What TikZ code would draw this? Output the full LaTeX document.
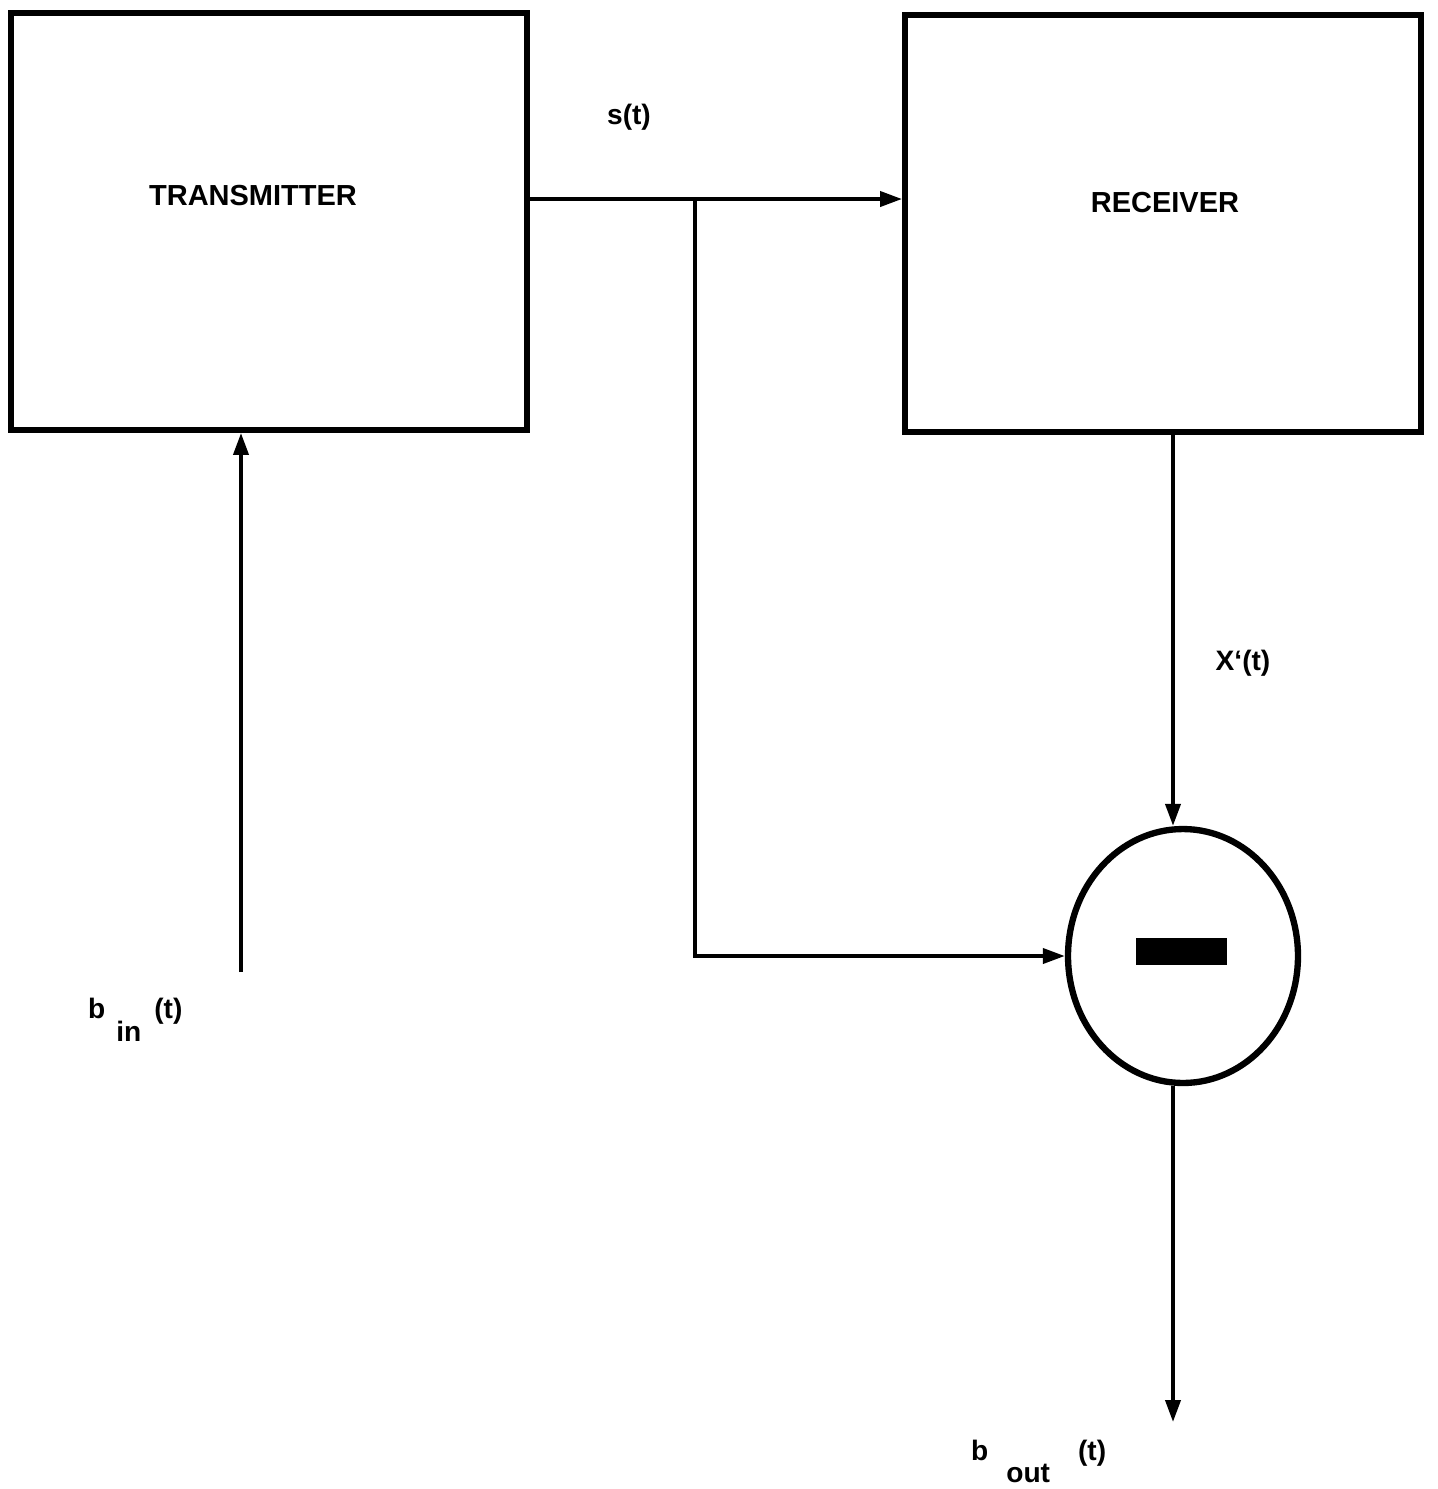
\documentclass[tikz,border=0pt]{standalone}
\usepackage{fontspec}
\setmainfont{Liberation Sans}
\usetikzlibrary{arrows.meta, positioning, shapes.geometric}

\begin{document}
\begin{tikzpicture}[
  x=0.02cm, y=-0.02cm,
  font=\bfseries\fontsize{16.5}{19}\selectfont,
  block/.style={draw, line width=3.4pt, minimum width=10.32cm,
                minimum height=8.34cm, inner sep=0pt},
  summer/.style={draw, ellipse, line width=3.6pt, minimum width=4.6cm,
                 minimum height=5.08cm, inner sep=0pt},
  minusbar/.style={fill, minimum width=1.82cm, minimum height=0.54cm, inner sep=0pt},
  arr/.style={-{Triangle[length=0.44cm, width=0.3cm]}, line width=2.2pt},
  sig/.style={font=\bfseries\fontsize{16}{19}\selectfont},
  sub/.style={font=\bfseries\fontsize{16}{19}\selectfont, anchor=base west},
]
\useasboundingbox (0,0) rectangle (1438,1489);

% Blocos
\node[block] (tx) at (269,221.5) {};
\node (txt) at (253,196) {TRANSMITTER};
\node[block] (rx) at (1163,223.5) {};
\node (rxt) at (1165,203) {RECEIVER};

% Subtrator
\node[summer] (sum) at (1183,956) {};
\node[minusbar] (minus) at (1181.5,951.5) {};

% Pontos livres
\coordinate (split) at (695,199);
\coordinate (bin) at (241,972);
\coordinate (bout) at (1173,1422);

% Setas
\draw[arr] (tx.east |- split) -- (rx.west |- split);
\draw[arr] (split) |- (sum.west);
\draw[arr] (bin) -- (bin |- tx.south);
\draw[arr] ([xshift=-0.2cm]rx.south -| sum.north) -- ([xshift=-0.2cm]sum.north);
\draw[arr] ([xshift=-0.2cm]sum.south) -- (bout);

% Rotulos
\node[sig] (slbl) at (629,117) {s(t)};
\node[sig] (xlbl) at (1243,663) {X‘(t)};
\node[sub] (binlbl) at (82,1018) {b\hspace{0.22cm}\raisebox{-0.46cm}{in}\hspace{0.26cm}(t)};
\node[sub] (boutlbl) at (965,1460) {b\hspace{0.36cm}\raisebox{-0.44cm}{out}\hspace{0.56cm}(t)};

\end{tikzpicture}
\end{document}
